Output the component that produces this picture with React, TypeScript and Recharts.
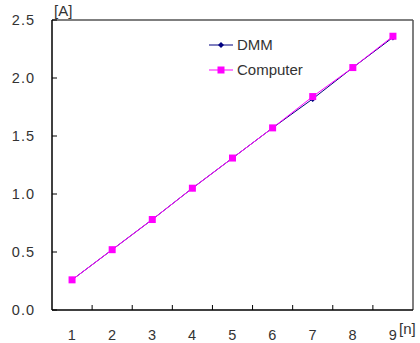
import { LineChart, Line, XAxis, YAxis } from 'recharts';

const runs = [1, 2, 3, 4, 5, 6, 7, 8, 9];
const dmmValues = [0.26, 0.52, 0.78, 1.05, 1.31, 1.57, 1.82, 2.09, 2.35];
const computerValues = [0.26, 0.52, 0.78, 1.05, 1.31, 1.57, 1.84, 2.09, 2.36];
const yTicks = [0, 0.5, 1.0, 1.5, 2.0, 2.5];

const W = 420;
const H = 343;
const M = { top: 20, right: 7, bottom: 33, left: 52 };
const band = (W - M.left - M.right) / runs.length;
const font = 'Arial, "Liberation Sans", sans-serif';
const textColor = '#333';

const data = runs.map((n, i) => ({ n: String(n), dmm: dmmValues[i], computer: computerValues[i] }));

const XTick = ({ x, y, payload, index }: any) => (
  <g>
    {index > 0 && <line x1={x - band / 2} x2={x - band / 2} y1={y} y2={y - 5} stroke="#000" />}
    <text x={x} y={y + 30} textAnchor="middle" fontSize={14.5} fill={textColor} fontFamily={font} letterSpacing={0.5}>
      {payload.value}
    </text>
  </g>
);

const YTick = ({ x, y, payload }: any) => (
  <g>
    <line x1={x} x2={x + 5} y1={y} y2={y} stroke="#000" />
    <text x={x - 17} y={y + 5} textAnchor="end" fontSize={14.5} fill={textColor} fontFamily={font} letterSpacing={1}>
      {payload.value.toFixed(1)}
    </text>
  </g>
);

const Diamond = ({ cx, cy }: any) => (
  <path d={`M${cx},${cy - 3}L${cx + 3},${cy}L${cx},${cy + 3}L${cx - 3},${cy}Z`} fill="#000080" />
);

const Square = ({ cx, cy }: any) => (
  <rect x={cx - 3.5} y={cy - 3.5} width={7} height={7} fill="#FF00FF" />
);

const LegendBox = () => (
  <svg width={140} height={50} style={{ position: 'absolute', left: 205, top: 30 }}>
    <line x1={4} x2={28} y1={15} y2={15} stroke="#000080" />
    <path d="M16,12L19,15L16,18L13,15Z" fill="#000080" />
    <text x={32} y={20} fontSize={15} fill={textColor} fontFamily={font}>DMM</text>
    <line x1={4} x2={28} y1={40} y2={40} stroke="#FF00FF" />
    <rect x={12.5} y={36.5} width={7} height={7} fill="#FF00FF" />
    <text x={32} y={45} fontSize={15} fill={textColor} fontFamily={font}>Computer</text>
  </svg>
);

export default function App() {
  return (
    <div style={{ position: 'absolute', left: 0, top: 0, width: W, height: H, background: '#fff' }}>
      <LineChart width={W} height={H} data={data} margin={{ top: M.top, right: M.right, bottom: 0, left: 0 }}>
        <XAxis
          dataKey="n"
          height={M.bottom}
          padding={{ left: band / 2, right: band / 2 }}
          axisLine={{ stroke: '#000', strokeWidth: 1.5 }}
          tickLine={false}
          tickSize={0}
          tickMargin={0}
          tick={<XTick />}
          interval={0}
        />
        <YAxis
          width={M.left}
          domain={[0, 2.5]}
          ticks={yTicks}
          axisLine={{ stroke: '#000', strokeWidth: 1.5 }}
          tickLine={false}
          tickSize={0}
          tickMargin={0}
          tick={<YTick />}
          interval={0}
        />
        <line x1={M.left} x2={W - M.right} y1={M.top} y2={M.top} stroke="#555" strokeWidth={1.5} />
        <line x1={W - M.right} x2={W - M.right} y1={M.top} y2={H - M.bottom} stroke="#555" strokeWidth={1.5} />
        <Line dataKey="dmm" stroke="#000080" strokeWidth={1} dot={<Diamond />} isAnimationActive={false} />
        <Line dataKey="computer" stroke="#FF00FF" strokeWidth={1} dot={<Square />} isAnimationActive={false} />
        <text x={54} y={16} fontSize={15} fill={textColor} fontFamily={font}>[A]</text>
        <text x={399} y={334} fontSize={15} fill={textColor} fontFamily={font}>[n]</text>
      </LineChart>
      <LegendBox />
    </div>
  );
}
